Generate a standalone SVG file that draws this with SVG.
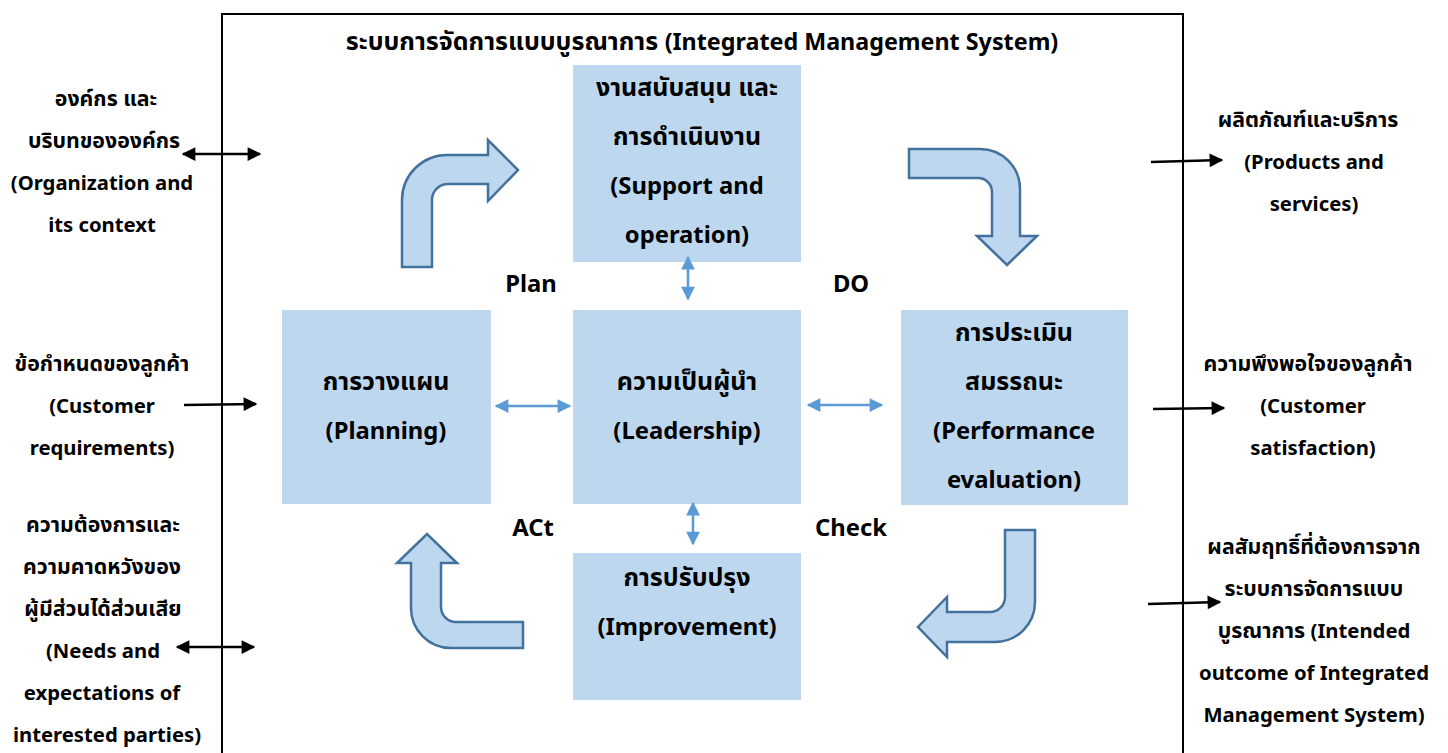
<svg xmlns="http://www.w3.org/2000/svg" width="1448" height="753" viewBox="0 0 1448 753">
<style>
.t{font-family:"Noto Sans","Noto Sans Thai","Liberation Sans",sans-serif;font-weight:bold;fill:#000;text-anchor:middle}
.bx{font-size:23.8px}
.bxt{font-size:25px}
.sd{font-size:20.3px}
.sdt{font-size:21.3px}
.box{fill:#BDD7EE}
.bent{fill:#BDD7EE;stroke:#41719C;stroke-width:2.5;stroke-linejoin:miter}
.blk{stroke:#000;stroke-width:2.5;fill:none}
.blu{stroke:#5B9BD5;stroke-width:2.5;fill:none}
</style>
<defs>
<marker id="hb" viewBox="0 0 10 10" refX="9" refY="5" markerWidth="6" markerHeight="5.5" orient="auto-start-reverse" markerUnits="strokeWidth"><path d="M0,0 L10,5 L0,10 Z" fill="#000"/></marker>
<marker id="hu" viewBox="0 0 10 10" refX="9" refY="5" markerWidth="6" markerHeight="5.5" orient="auto-start-reverse" markerUnits="strokeWidth"><path d="M0,0 L10,5 L0,10 Z" fill="#5B9BD5"/></marker>
</defs>
<rect x="0" y="0" width="1448" height="753" fill="#fff"/>
<g id="frame">
<rect x="222" y="14" width="961" height="770" fill="none" stroke="#000" stroke-width="2"/>
<text class="t" x="702" y="50"><tspan font-size="25">ระบบการจัดการแบบบูรณาการ </tspan><tspan font-size="23.3">(Integrated Management System)</tspan></text>
</g>
<g id="support">
<rect class="box" x="573" y="65" width="228" height="197"/>
<text class="t bxt" x="687" y="96">งานสนับสนุน และ</text>
<text class="t bxt" x="687" y="145">การดำเนินงาน</text>
<text class="t bx" x="687" y="194">(Support and</text>
<text class="t bx" x="687" y="243">operation)</text>
</g>
<g id="planning">
<rect class="box" x="282" y="310" width="209" height="194"/>
<text class="t bxt" x="386" y="390">การวางแผน</text>
<text class="t bx" x="386" y="439">(Planning)</text>
</g>
<g id="leadership">
<rect class="box" x="573" y="310" width="228" height="194"/>
<text class="t bxt" x="687" y="390">ความเป็นผู้นำ</text>
<text class="t bx" x="687" y="439">(Leadership)</text>
</g>
<g id="performance">
<rect class="box" x="901" y="310" width="227" height="195"/>
<text class="t bxt" x="1014" y="341">การประเมิน</text>
<text class="t bxt" x="1014" y="390">สมรรถนะ</text>
<text class="t bx" x="1014" y="439">(Performance</text>
<text class="t bx" x="1014" y="488">evaluation)</text>
</g>
<g id="improvement">
<rect class="box" x="573" y="553" width="228" height="147"/>
<text class="t bxt" x="687" y="586">การปรับปรุง</text>
<text class="t bx" x="687" y="635">(Improvement)</text>
</g>
<g id="cycle-labels">
<text class="t bx" x="531" y="292">Plan</text>
<text class="t bx" x="851" y="292">DO</text>
<text class="t bx" x="533" y="536">ACt</text>
<text class="t bx" x="851" y="536">Check</text>
</g>
<g id="inputs">
<text class="t sdt" x="106" y="106">องค์กร และ</text>
<text class="t sdt" x="104" y="148">บริบทขององค์กร</text>
<text class="t sd" x="102" y="190">(Organization and</text>
<text class="t sd" x="102" y="232">its context</text>
<text class="t sdt" x="102" y="371">ข้อกำหนดของลูกค้า</text>
<text class="t sd" x="102" y="413">(Customer</text>
<text class="t sd" x="102" y="455">requirements)</text>
<text class="t sdt" x="103" y="532">ความต้องการและ</text>
<text class="t sdt" x="102" y="574">ความคาดหวังของ</text>
<text class="t sdt" x="103" y="616">ผู้มีส่วนได้ส่วนเสีย</text>
<text class="t sd" x="103" y="658">(Needs and</text>
<text class="t sd" x="102" y="700">expectations of</text>
<text class="t sd" x="107" y="742">interested parties)</text>
</g>
<g id="outputs">
<text class="t sdt" x="1308" y="127">ผลิตภัณฑ์และบริการ</text>
<text class="t sd" x="1314" y="169">(Products and</text>
<text class="t sd" x="1314" y="211">services)</text>
<text class="t sdt" x="1308" y="371">ความพึงพอใจของลูกค้า</text>
<text class="t sd" x="1313" y="413">(Customer</text>
<text class="t sd" x="1313" y="455">satisfaction)</text>
<text class="t sdt" x="1314" y="554">ผลสัมฤทธิ์ที่ต้องการจาก</text>
<text class="t sdt" x="1314" y="596">ระบบการจัดการแบบ</text>
<text class="t" x="1314" y="638"><tspan font-size="21.3">บูรณาการ </tspan><tspan font-size="20.3">(Intended</tspan></text>
<text class="t sd" x="1314" y="680">outcome of Integrated</text>
<text class="t sd" x="1314" y="722">Management System)</text>
</g>
<g id="connectors">
<path class="bent" d="M402,267 L402,200 A45,45 0 0 1 447,155 L488,155 L488,140 L518,170 L488,201 L488,184 L448,184 A16,16 0 0 0 432,200 L432,267 Z"/>
<path class="bent" d="M909,149 L980,149 A40,40 0 0 1 1020,189 L1020,236 L1037,236 L1007,265 L977,236 L992,236 L992,192 A14,14 0 0 0 978,178 L909,178 Z"/>
<path class="bent" d="M1005,530 L1035,530 L1035,602 A40,40 0 0 1 995,642 L947,642 L947,657 L918,627 L947,597 L947,612 L990,612 A15,15 0 0 0 1005,597 Z"/>
<path class="bent" d="M523,648 L451,648 A40,40 0 0 1 411,608 L411,563 L397,563 L427,534 L457,563 L441,563 L441,607 A15,15 0 0 0 456,622 L523,622 Z"/>
<line class="blu" x1="496" y1="406" x2="570" y2="406" marker-start="url(#hu)" marker-end="url(#hu)"/>
<line class="blu" x1="808" y1="405" x2="882" y2="405" marker-start="url(#hu)" marker-end="url(#hu)"/>
<line class="blu" x1="688" y1="257" x2="688" y2="299" marker-start="url(#hu)" marker-end="url(#hu)"/>
<line class="blu" x1="693" y1="503" x2="693" y2="544" marker-start="url(#hu)" marker-end="url(#hu)"/>
<line class="blk" x1="183" y1="154" x2="260" y2="154" marker-start="url(#hb)" marker-end="url(#hb)"/>
<line class="blk" x1="184" y1="405" x2="256" y2="404" marker-end="url(#hb)"/>
<line class="blk" x1="177" y1="647" x2="254" y2="647" marker-start="url(#hb)" marker-end="url(#hb)"/>
<line class="blk" x1="1151" y1="162" x2="1222" y2="160" marker-end="url(#hb)"/>
<line class="blk" x1="1153" y1="409" x2="1224" y2="408" marker-end="url(#hb)"/>
<line class="blk" x1="1148" y1="604" x2="1220" y2="602" marker-end="url(#hb)"/>
</g>
</svg>
